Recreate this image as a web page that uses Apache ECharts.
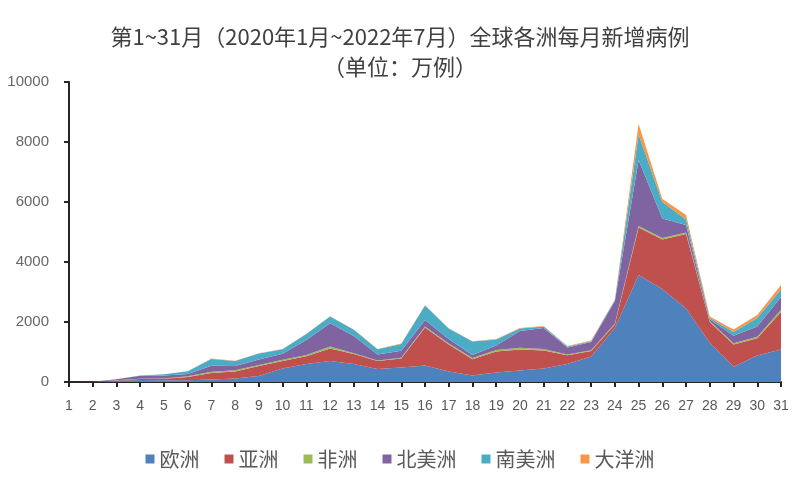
<!DOCTYPE html>
<html><head><meta charset="utf-8">
<script src="https://cdn.jsdelivr.net/npm/echarts@6/dist/echarts.min.js"></script>
<style>html,body{margin:0;padding:0;background:#fff}#c{width:800px;height:500px}</style>
</head><body><div id="c"></div>
<script>
const months = ['1','2','3','4','5','6','7','8','9','10','11','12','13','14','15','16','17','18','19','20','21','22','23','24','25','26','27','28','29','30','31'];
const europe   = [0, 0, 45, 70, 60, 60, 80, 120, 200, 450, 600, 700, 600, 430, 480, 550, 350, 220, 320, 380, 450, 600, 850, 1800, 3570, 3100, 2450, 1300, 510, 880, 1080];
const asia     = [1, 7, 15, 30, 50, 110, 220, 230, 330, 250, 260, 420, 330, 270, 300, 1270, 900, 540, 700, 700, 600, 290, 180, 120, 1580, 1650, 2480, 700, 740, 580, 1250];
const africa   = [0, 0, 1, 5, 10, 20, 40, 40, 40, 40, 40, 60, 30, 20, 30, 30, 30, 40, 50, 60, 50, 30, 30, 30, 50, 50, 50, 30, 40, 50, 80];
const namerica = [0, 0, 30, 100, 100, 80, 200, 140, 180, 200, 500, 780, 570, 200, 230, 220, 150, 100, 150, 560, 700, 230, 270, 750, 2200, 650, 250, 60, 250, 340, 420];
const samerica = [0, 0, 2, 10, 40, 90, 230, 170, 200, 150, 200, 220, 210, 170, 230, 480, 350, 450, 200, 80, 50, 30, 30, 30, 850, 550, 190, 40, 130, 280, 250];
const oceania  = [0, 0, 1, 1, 1, 2, 10, 10, 10, 10, 10, 10, 10, 10, 10, 10, 10, 10, 10, 20, 20, 20, 20, 20, 350, 100, 150, 50, 80, 100, 150];
const yTicks = [0, 2000, 4000, 6000, 8000, 10000];

const names = ['欧洲','亚洲','非洲','北美洲','南美洲','大洋洲'];
const colors = ['#4F81BD','#C0504D','#9BBB59','#8064A2','#4BACC6','#F79646'];
const datas = [europe, asia, africa, namerica, samerica, oceania];

const chart = echarts.init(document.getElementById('c'));
chart.setOption({
  animation: false,
  backgroundColor: '#fff',
  title: {
    text: '第1~31月（2020年1月~2022年7月）全球各洲每月新增病例',
    subtext: '（单位：万例）',
    left: 'center', top: 21, itemGap: 8,
    textStyle: {fontFamily: 'Noto Sans CJK SC', fontSize: 22, fontWeight: 'normal', color: '#404040'},
    subtextStyle: {fontFamily: 'Noto Sans CJK SC', fontSize: 22, color: '#404040'}
  },
  legend: {
    data: names, top: 444, left: 'center', itemWidth: 9, itemHeight: 9, itemGap: 25,
    icon: 'rect',
    textStyle: {fontFamily: 'Noto Sans CJK SC', fontSize: 20, color: '#595959'}
  },
  grid: {left: 69, right: 19, top: 82, bottom: 118},
  xAxis: {
    type: 'category', data: months, boundaryGap: false,
    axisLine: {lineStyle: {color: '#262626', width: 2}},
    axisTick: {show: true, length: 5, lineStyle: {color: '#262626', width: 2}},
    axisLabel: {fontFamily: 'Liberation Sans', fontSize: 14, color: '#595959', margin: 17, interval: 0}
  },
  yAxis: {
    type: 'value', min: yTicks[0], max: yTicks[yTicks.length-1], interval: 2000,
    axisLine: {show: true, lineStyle: {color: '#262626', width: 2}},
    axisTick: {show: true, length: 5, inside: false, lineStyle: {color: '#262626', width: 2}},
    splitLine: {show: false},
    axisLabel: {fontFamily: 'Liberation Sans', fontSize: 15, color: '#666666', margin: 20, formatter: v => String(v)}
  },
  series: names.map((n, i) => ({
    name: n, type: 'line', stack: 'total', data: datas[i],
    symbol: 'none', lineStyle: {width: 0}, areaStyle: {color: colors[i], opacity: 1},
    itemStyle: {color: colors[i]}
  }))
});
</script></body></html>
